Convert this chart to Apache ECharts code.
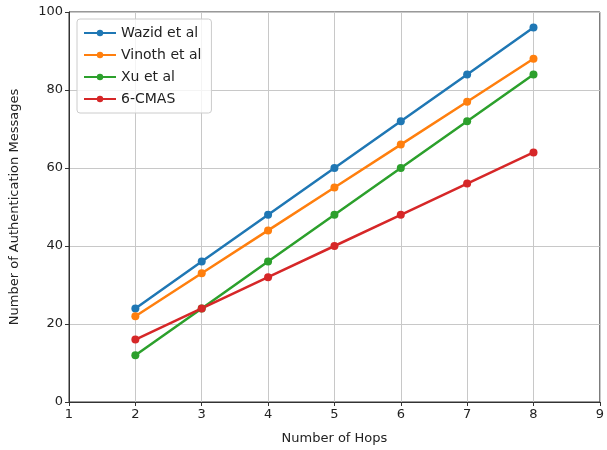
<!DOCTYPE html>
<html>
<head>
<meta charset="utf-8">
<script src="https://cdn.jsdelivr.net/npm/echarts@6/dist/echarts.min.js"></script>
<style>
  html, body { margin: 0; padding: 0; background: #fff; }
  #chart { width: 607px; height: 450px; }
</style>
</head>
<body>
<div id="chart"></div>
<script>
const hops = [2, 3, 4, 5, 6, 7, 8]
const wazid = [24, 36, 48, 60, 72, 84, 96]
const vinoth = [22, 33, 44, 55, 66, 77, 88]
const xu = [12, 24, 36, 48, 60, 72, 84]
const cmas = [16, 24, 32, 40, 48, 56, 64]

const font = 'DejaVu Sans'
const pairs = arr => hops.map((h, i) => [h, arr[i]])
const mk = (name, color, data) => ({
  name: name,
  type: 'line',
  data: pairs(data),
  symbol: 'circle',
  symbolSize: 8,
  lineStyle: { width: 2.5, color: color },
  itemStyle: { color: color },
  emphasis: { disabled: true }
})

const chart = echarts.init(document.getElementById('chart'))
chart.setOption({
  animation: false,
  color: ['#1f77b4', '#ff7f0e', '#2ca02c', '#d62728'],
  grid: { left: 69, right: 2, top: 12, bottom: 48, show: true, borderColor: '#333', borderWidth: 1 },
  legend: {
    left: 77, top: 19, orient: 'vertical',
    itemWidth: 32, itemHeight: 8, itemGap: 8,
    padding: [7, 10, 7, 6],
    borderColor: '#ccc', borderWidth: 1, borderRadius: 3,
    backgroundColor: 'rgba(255,255,255,0.8)',
    textStyle: { fontFamily: font, fontSize: 14, color: '#222' },
    data: ['Wazid et al', 'Vinoth et al', 'Xu et al', '6-CMAS']
  },
  xAxis: {
    type: 'value', min: 1, max: 9, interval: 1,
    name: 'Number of Hops', nameLocation: 'middle', nameGap: 30,
    nameTextStyle: { fontFamily: font, fontSize: 13, color: '#222' },
    axisLine: { show: true, lineStyle: { color: '#333' } },
    axisTick: { show: true, length: 4, lineStyle: { color: '#333' } },
    axisLabel: { fontFamily: font, fontSize: 13, color: '#222', margin: 6 },
    splitLine: { show: true, lineStyle: { color: '#c8c8c8', width: 1 } }
  },
  yAxis: {
    type: 'value', min: 0, max: 100, interval: 20,
    name: 'Number of Authentication Messages', nameLocation: 'middle', nameGap: 48,
    nameTextStyle: { fontFamily: font, fontSize: 13, color: '#222' },
    axisLine: { show: true, lineStyle: { color: '#333' } },
    axisTick: { show: true, length: 4, lineStyle: { color: '#333' } },
    axisLabel: { fontFamily: font, fontSize: 13, color: '#222', margin: 6 },
    splitLine: { show: true, lineStyle: { color: '#c8c8c8', width: 1 } }
  },
  series: [
    mk('Wazid et al', '#1f77b4', wazid),
    mk('Vinoth et al', '#ff7f0e', vinoth),
    mk('Xu et al', '#2ca02c', xu),
    mk('6-CMAS', '#d62728', cmas)
  ]
})
</script>
</body>
</html>
